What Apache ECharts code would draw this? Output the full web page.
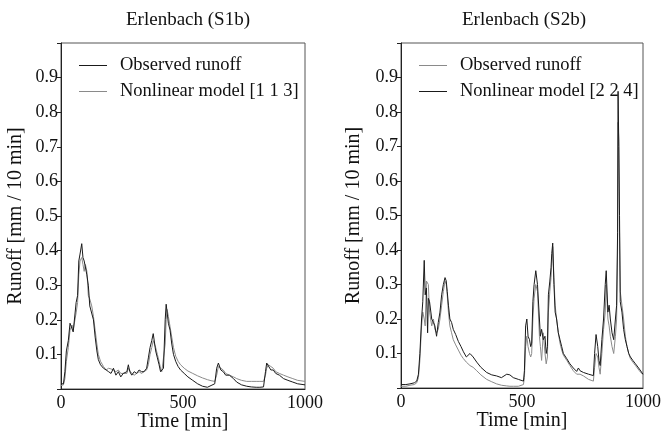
<!DOCTYPE html>
<html>
<head>
<meta charset="utf-8">
<script src="https://cdn.jsdelivr.net/npm/echarts@6/dist/echarts.min.js"></script>
<style>
  html, body { margin: 0; padding: 0; background: #fff; }
  #chart { width: 662px; height: 433px; }
</style>
</head>
<body>
<div id="chart"></div>
<script>
// 左图 S1b
const s1Time = [0, 10, 16, 22, 30, 37, 45, 50, 57, 62, 68, 73, 78, 85, 90, 95, 100, 106, 112, 118, 126, 133, 140, 147, 153, 162, 174, 185, 195, 205, 215, 225, 235, 245, 255, 262, 270, 276, 282, 290, 300, 310, 320, 330, 340, 351, 358, 365, 372, 378, 382, 388, 395, 402, 408, 413, 420, 427, 431, 435, 440, 447, 454, 461, 470, 480, 490, 505, 520, 540, 560, 580, 600, 615, 630, 638, 645, 655, 665, 675, 690, 707, 720, 740, 761, 780, 800, 815, 830, 838, 843, 850, 860, 870, 880, 895, 912, 930, 950, 970, 1000]
const s1Obs = [0.015, 0.015, 0.05, 0.11, 0.14, 0.19, 0.19, 0.165, 0.17, 0.25, 0.27, 0.37, 0.39, 0.42, 0.38, 0.37, 0.37, 0.33, 0.30, 0.24, 0.235, 0.20, 0.15, 0.11, 0.085, 0.07, 0.06, 0.055, 0.05, 0.045, 0.06, 0.04, 0.05, 0.035, 0.045, 0.04, 0.05, 0.07, 0.05, 0.04, 0.05, 0.045, 0.055, 0.05, 0.05, 0.06, 0.09, 0.12, 0.14, 0.16, 0.155, 0.11, 0.09, 0.07, 0.05, 0.045, 0.06, 0.2, 0.245, 0.24, 0.19, 0.17, 0.13, 0.1, 0.08, 0.065, 0.055, 0.045, 0.035, 0.025, 0.015, 0.008, 0.005, 0.01, 0.015, 0.06, 0.075, 0.055, 0.05, 0.04, 0.04, 0.03, 0.02, 0.012, 0.008, 0.006, 0.005, 0.005, 0.006, 0.05, 0.075, 0.07, 0.055, 0.055, 0.045, 0.04, 0.03, 0.025, 0.02, 0.015, 0.012]
const s1Model = [0.01, 0.012, 0.03, 0.08, 0.12, 0.17, 0.185, 0.17, 0.165, 0.22, 0.25, 0.33, 0.37, 0.38, 0.36, 0.34, 0.36, 0.34, 0.27, 0.26, 0.24, 0.21, 0.17, 0.13, 0.1, 0.08, 0.065, 0.055, 0.06, 0.058, 0.055, 0.05, 0.055, 0.045, 0.045, 0.04, 0.045, 0.06, 0.055, 0.045, 0.04, 0.045, 0.05, 0.045, 0.05, 0.055, 0.07, 0.1, 0.12, 0.14, 0.14, 0.12, 0.1, 0.08, 0.06, 0.05, 0.055, 0.13, 0.2, 0.23, 0.21, 0.18, 0.15, 0.12, 0.095, 0.08, 0.07, 0.06, 0.052, 0.045, 0.038, 0.032, 0.027, 0.024, 0.022, 0.04, 0.065, 0.06, 0.055, 0.045, 0.04, 0.035, 0.03, 0.025, 0.022, 0.022, 0.022, 0.022, 0.022, 0.04, 0.06, 0.07, 0.065, 0.06, 0.05, 0.045, 0.04, 0.035, 0.03, 0.025, 0.022]

// 右图 S2b
const s2Time = [0, 20, 37, 55, 65, 72, 78, 85, 90, 96, 100, 105, 110, 113, 118, 127, 134, 140, 147, 154, 161, 168, 175, 182, 187, 191, 196, 202, 209, 216, 226, 237, 248, 258, 270, 285, 298, 313, 330, 354, 375, 395, 415, 437, 450, 464, 485, 506, 510, 515, 520, 525, 531, 536, 540, 545, 550, 557, 564, 572, 576, 581, 588, 595, 600, 605, 609, 615, 620, 623, 627, 632, 637, 643, 650, 657, 664, 671, 685, 698, 712, 726, 733, 740, 754, 775, 795, 800, 806, 813, 818, 823, 830, 837, 844, 848, 855, 860, 865, 872, 879, 886, 891, 895, 897, 900, 903, 906, 913, 920, 927, 934, 941, 948, 958, 969, 985, 1000]
const s2Model = [0.01, 0.01, 0.012, 0.015, 0.02, 0.04, 0.1, 0.2, 0.25, 0.37, 0.27, 0.29, 0.16, 0.26, 0.25, 0.2, 0.19, 0.18, 0.15, 0.19, 0.22, 0.27, 0.3, 0.32, 0.31, 0.28, 0.24, 0.2, 0.19, 0.17, 0.155, 0.135, 0.12, 0.105, 0.09, 0.1, 0.09, 0.075, 0.06, 0.045, 0.038, 0.035, 0.03, 0.04, 0.038, 0.03, 0.025, 0.02, 0.05, 0.18, 0.2, 0.15, 0.14, 0.12, 0.13, 0.25, 0.3, 0.34, 0.3, 0.2, 0.15, 0.17, 0.14, 0.15, 0.1, 0.12, 0.27, 0.31, 0.35, 0.39, 0.42, 0.3, 0.22, 0.2, 0.16, 0.14, 0.12, 0.1, 0.085, 0.07, 0.058, 0.048, 0.058, 0.05, 0.045, 0.04, 0.036, 0.1, 0.155, 0.12, 0.08, 0.065, 0.14, 0.2, 0.3, 0.34, 0.22, 0.24, 0.2, 0.16, 0.14, 0.2, 0.24, 0.45, 0.86, 0.7, 0.5, 0.25, 0.22, 0.17, 0.14, 0.12, 0.1, 0.09, 0.08, 0.07, 0.055, 0.04]
const s2Obs = [0.005, 0.005, 0.008, 0.01, 0.015, 0.03, 0.08, 0.18, 0.22, 0.2, 0.18, 0.31, 0.31, 0.3, 0.22, 0.18, 0.2, 0.17, 0.16, 0.17, 0.2, 0.24, 0.28, 0.31, 0.3, 0.27, 0.22, 0.18, 0.16, 0.14, 0.125, 0.11, 0.095, 0.085, 0.075, 0.065, 0.06, 0.05, 0.038, 0.025, 0.018, 0.012, 0.008, 0.006, 0.005, 0.005, 0.005, 0.01, 0.03, 0.12, 0.15, 0.12, 0.1, 0.09, 0.1, 0.2, 0.26, 0.3, 0.28, 0.15, 0.12, 0.08, 0.16, 0.1, 0.07, 0.09, 0.22, 0.28, 0.32, 0.36, 0.41, 0.32, 0.24, 0.2, 0.16, 0.13, 0.11, 0.095, 0.08, 0.065, 0.05, 0.04, 0.045, 0.04, 0.035, 0.025, 0.02, 0.06, 0.1, 0.09, 0.06, 0.04, 0.1, 0.17, 0.22, 0.3, 0.2, 0.18, 0.15, 0.12, 0.1, 0.15, 0.2, 0.4, 0.77, 0.72, 0.45, 0.28, 0.24, 0.2, 0.15, 0.12, 0.1, 0.085, 0.075, 0.065, 0.05, 0.038]

const titles = ['Erlenbach (S1b)', 'Erlenbach (S2b)']
const legend1 = ['Observed runoff', 'Nonlinear model [1 1 3]']
const legend2 = ['Observed runoff ', 'Nonlinear model [2 2 4]']
const xTicks = [0, 500, 1000]

const font = 'Liberation Serif'
const zip = (t, v) => t.map((x, i) => [x, v[i]])

let myChart = echarts.init(document.getElementById('chart'))

let grids = [
  { left: 61, right: 357, top: 43, bottom: 44 },
  { left: 401, right: 19, top: 43, bottom: 45 }
]

let xAxis = grids.map((g, i) => ({
  type: 'value',
  gridIndex: i,
  min: 0,
  max: 1000,
  interval: 500,
  name: 'Time [min]',
  nameLocation: 'middle',
  nameGap: 23,
  nameMoveOverlap: false,
  nameTextStyle: { fontFamily: font, fontSize: 20, color: '#111' },
  axisLine: { lineStyle: { color: '#222', width: 1 } },
  axisTick: { show: false },
  axisLabel: {
    fontFamily: font, fontSize: 18, color: '#111', margin: 5,
    formatter: v => xTicks.indexOf(v) >= 0 ? String(v) : ''
  },
  splitLine: { show: false }
}))

let yAxis = grids.map((g, i) => ({
  type: 'value',
  gridIndex: i,
  min: 0,
  max: 1,
  interval: 0.1,
  name: 'Runoff [mm / 10 min]',
  nameLocation: 'middle',
  nameGap: i === 0 ? 35 : 37,
  nameMoveOverlap: false,
  nameTextStyle: { fontFamily: font, fontSize: 20, color: '#111' },
  axisLine: { lineStyle: { color: '#222', width: 1 } },
  axisTick: { show: true, length: 4, lineStyle: { color: '#222' } },
  axisLabel: {
    fontFamily: font, fontSize: 18, color: '#111', margin: 3,
    formatter: v => (v > 0.05 && v < 0.95) ? v.toFixed(1) : ''
  },
  splitLine: { show: false }
}))

function lineSeries (name, data, idx, color) {
  return {
    name: name,
    type: 'line',
    xAxisIndex: idx,
    yAxisIndex: idx,
    data: data,
    symbol: 'none',
    lineStyle: { color: color, width: 1 },
    itemStyle: { color: color }
  }
}

let legendBase = {
  orient: 'vertical',
  top: 51,
  itemWidth: 28,
  itemHeight: 1,
  itemGap: 7,
  icon: 'rect',
  textStyle: { fontFamily: font, fontSize: 18.5, color: '#111', padding: [0, 0, 0, 8] }
}

let titleStyle = { fontFamily: font, fontSize: 19, fontWeight: 'normal', color: '#111' }

let option = {
  animation: false,
  title: [
    { text: titles[0], left: 183, top: 6, textAlign: 'center', textStyle: titleStyle },
    { text: titles[1], left: 519, top: 6, textAlign: 'center', textStyle: titleStyle }
  ],
  grid: grids.map(g => Object.assign({
    show: true, borderColor: '#555', borderWidth: 1,
    containLabel: false, outerBoundsMode: 'none'
  }, g)),
  legend: [
    Object.assign({ left: 74, data: legend1 }, legendBase),
    Object.assign({ left: 414, data: legend2 }, legendBase)
  ],
  xAxis: xAxis,
  yAxis: yAxis,
  series: [
    lineSeries(legend1[1], zip(s1Time, s1Model), 0, '#8a8a8a'),
    lineSeries(legend1[0], zip(s1Time, s1Obs), 0, '#1a1a1a'),
    lineSeries(legend2[0], zip(s2Time, s2Obs), 1, '#8a8a8a'),
    lineSeries(legend2[1], zip(s2Time, s2Model), 1, '#1a1a1a')
  ]
}
myChart.setOption(option)
</script>
</body>
</html>
